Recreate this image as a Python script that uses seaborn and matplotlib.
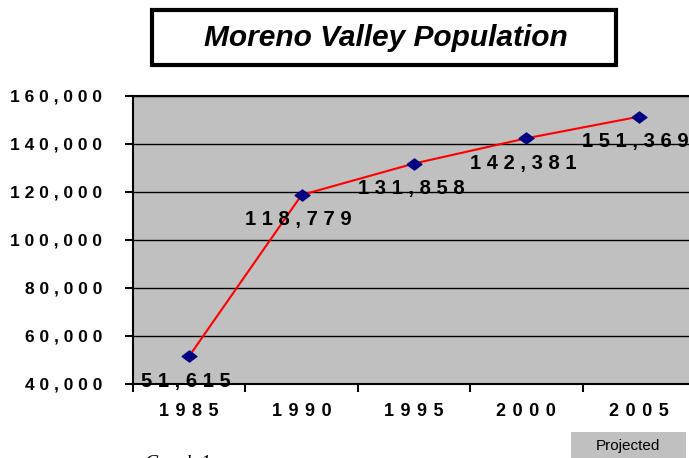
import numpy as np
import pandas as pd
import matplotlib
matplotlib.use("Agg")
import matplotlib.pyplot as plt
from matplotlib.patches import Rectangle
from matplotlib.ticker import FixedLocator, FuncFormatter
import seaborn as sns

# datos
years = ["1985", "1990", "1995", "2000", "2005"]
population = [51615, 118779, 131858, 142381, 151369]
y_ticks = [40000, 60000, 80000, 100000, 120000, 140000, 160000]

sns.set_theme(style="white")
plt.rcParams["font.family"] = ["Liberation Sans", "DejaVu Sans"]
plt.rcParams["font.weight"] = "bold"

HAIR = " \u200a"
# rombo un poco mas ancho que alto, como el marcador de Excel
DIAMOND = [(-1, 0), (0, 0.75), (1, 0), (0, -0.75), (-1, 0)]


def spaced(s, gap=" "):
    # imita el espaciado de letras del original
    return gap.join(s)


df = pd.DataFrame({"pos": np.arange(len(years)), "pop": population})

W, H = 689, 458
fig = plt.figure(figsize=(W / 100, H / 100), dpi=100)
fig.patch.set_facecolor("white")

# el area del grafico se sale por la derecha como en el original
left, right, top, bottom = 133, 695, 96, 384
ax = fig.add_axes([left / W, 1 - bottom / H, (right - left) / W, (bottom - top) / H])
ax.set_facecolor("#C0C0C0")

sns.lineplot(data=df, x="pos", y="pop", ax=ax, color="red", linewidth=1.5,
             marker=DIAMOND, markersize=11, markerfacecolor="#000080",
             markeredgecolor="#000080", zorder=3)

ax.set_xlim(-0.5, len(years) - 0.5)
ax.set_ylim(y_ticks[0], y_ticks[-1])

ax.yaxis.set_major_locator(FixedLocator(y_ticks))
ax.yaxis.set_major_formatter(FuncFormatter(lambda v, p: spaced(f"{v:,.0f}")))
ax.grid(axis="y", color="black", linewidth=1)
ax.set_axisbelow(True)

ax.set_xticks(df["pos"])
ax.set_xticklabels([spaced(y, HAIR) for y in years])
ax.set_xticks(np.arange(-0.5, len(years)), minor=True)
ax.tick_params(axis="x", which="major", length=0, pad=14, labelsize=13,
               labelcolor="black")
ax.tick_params(axis="x", which="minor", length=6, width=1.5, color="black",
               direction="out", bottom=True)
ax.tick_params(axis="y", length=6, width=1.5, color="black", direction="out",
               left=True, pad=16, labelsize=12.5, labelcolor="black")

ax.set_xlabel("")
ax.set_ylabel("")
for side in ["left", "bottom", "top"]:
    ax.spines[side].set_visible(True)
    ax.spines[side].set_color("black")
    ax.spines[side].set_linewidth(1.5)
ax.spines["right"].set_visible(False)

# etiquetas de datos debajo de cada punto
for x, v in zip(df["pos"], df["pop"]):
    ax.annotate(spaced(f"{v:,}"), (x, v), xytext=(-3, -25),
                textcoords="offset pixels", ha="center", va="center",
                fontsize=14.5, color="black", zorder=4)

# caja del titulo
fig.patches.append(Rectangle((152 / W, 1 - 65 / H), (616 - 152) / W, 55 / H,
                             transform=fig.transFigure, facecolor="white",
                             edgecolor="black", linewidth=3))
fig.text(386 / W, 1 - 46 / H, "Moreno Valley Population", ha="center",
         va="baseline", fontsize=21.5, fontstyle="italic", color="black")

# caja "Projected"
fig.patches.append(Rectangle((571 / W, 0), (686 - 571) / W, (458 - 432) / H,
                             transform=fig.transFigure, facecolor="#C0C0C0",
                             edgecolor="none"))
fig.text(628 / W, 1 - 446 / H, "Projected", ha="center", va="center",
         fontsize=11, fontweight="normal", color="black")

fig.text(145 / W, 1 - 468 / H, "Graph 1", ha="left", va="baseline",
         fontsize=14, fontstyle="italic", fontweight="normal", color="black",
         family=["Liberation Serif", "DejaVu Serif"])

fig.savefig("out.png", dpi=100)
